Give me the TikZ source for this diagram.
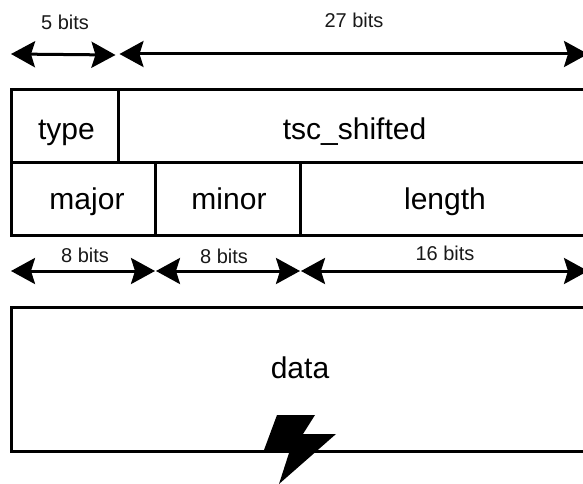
\documentclass[tikz,border=0pt]{standalone}
\usepackage{fontspec}
\setmainfont{Liberation Sans}
\usetikzlibrary{arrows.meta}
\tikzset{
  x=1pt,y=-1pt,
  rule/.style={line width=3pt},
  big/.style={font=\fontsize{30}{34}\selectfont,inner sep=0pt,anchor=base},
  small/.style={font=\fontsize{20}{24}\selectfont,inner sep=0pt,anchor=base,text=black!90},
  span/.style={line width=3pt,{Stealth[length=24pt,width=26pt,inset=4pt]}-{Stealth[length=24pt,width=26pt,inset=4pt]}}
}
\begin{document}
\begin{tikzpicture}
\useasboundingbox (0,0) rectangle (583,484);
\clip (0,0) rectangle (583,484);
% cells
\draw[rule] (11,90) rectangle (600,162);
\draw[rule] (11,162) rectangle (600,235);
\draw[rule] (11,307) rectangle (600,451);
\draw[rule] (118.5,90) -- (118.5,162);
\draw[rule] (155.5,162) -- (155.5,235);
\draw[rule] (300,162) -- (300,235);
% labels
\node[big] (type) at (66.5,139.5) {type};
\node[big] (tsc) at (354.5,139.5) {tsc\_shifted};
\node[big] (major) at (87,209.5) {major};
\node[big] (minor) at (229,209.5) {minor};
\node[big] (length) at (445,209.5) {length};
\node[big] (data) at (300,378.5) {data};
\node[small] (b5) at (65,29.5) {5 bits};
\node[small] (b27) at (354,27.5) {27 bits};
\node[small] (b8a) at (85,262.5) {8 bits};
\node[small] (b8b) at (224,263.5) {8 bits};
\node[small] (b16) at (445,260.5) {16 bits};
% spans
\coordinate (a1) at (11,54);
\coordinate (a2) at (115.5,55);
\coordinate (a3) at (119.5,54);
\coordinate (a4) at (588,54);
\coordinate (c1) at (11,271);
\coordinate (c2) at (155,271);
\coordinate (c3) at (156,271);
\coordinate (c4) at (300,271);
\coordinate (c5) at (301,271);
\coordinate (c6) at (588,271);
\draw[span] (a1) -- (a2);
\draw[span] (a3) -- (a4);
\draw[span] (c1) -- (c2);
\draw[span] (c3) -- (c4);
\draw[span] (c5) -- (c6);
% bolt
\fill[black] (277,415) -- (315,415) -- (303,434) -- (336,434) -- (279,484) -- (289,453) -- (264,450) -- cycle;
\end{tikzpicture}
\end{document}
